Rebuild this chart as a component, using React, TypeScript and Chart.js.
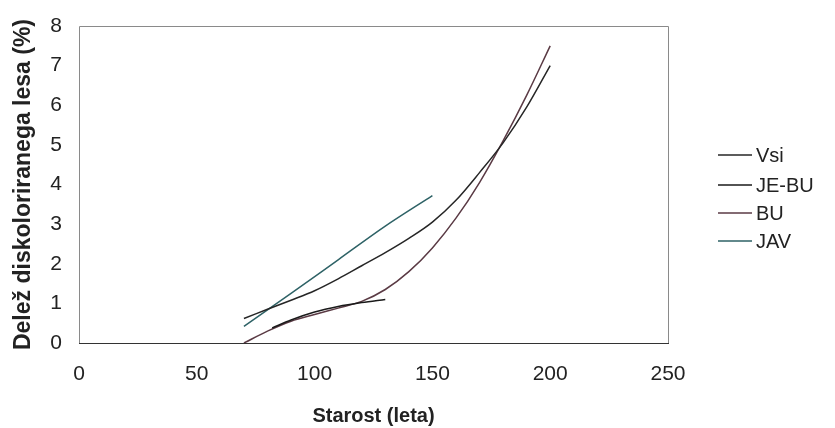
import React, { useEffect, useRef } from "react";
import { Chart, registerables } from "chart.js";

Chart.register(...registerables);

const xTicks = [0, 50, 100, 150, 200, 250];
const yTicks = [0, 1, 2, 3, 4, 5, 6, 7, 8];

const vsiX = [70, 80, 90, 100, 110, 120, 130, 140, 150, 160, 170, 180, 190, 200];
const vsiY = [0.62, 0.85, 1.08, 1.32, 1.62, 1.95, 2.28, 2.64, 3.05, 3.6, 4.3, 5.05, 5.95, 7.0];

const jebuX = [82, 90, 100, 110, 120, 130];
const jebuY = [0.38, 0.58, 0.78, 0.92, 1.02, 1.1];

const buX = [70, 80, 90, 100, 110, 120, 130, 140, 150, 160, 170, 180, 190, 200];
const buY = [0, 0.3, 0.55, 0.72, 0.88, 1.05, 1.35, 1.8, 2.4, 3.15, 4.05, 5.1, 6.25, 7.5];

const javX = [70, 90, 110, 130, 150];
const javY = [0.42, 1.25, 2.1, 2.95, 3.72];

const seriesNames = ["Vsi", "JE-BU", "BU", "JAV"];
const seriesColors = ["#262626", "#1a1a1a", "#5a3a44", "#2e6266"];

const FONT = "'Liberation Sans', Arial, sans-serif";

function pts(xs: number[], ys: number[]) {
  return xs.map((x, i) => ({ x, y: ys[i] }));
}

export default function App() {
  const ref = useRef<HTMLCanvasElement | null>(null);
  useEffect(() => {
    if (!ref.current) return;
    const frame = {
      id: "frame",
      afterDatasetsDraw(chart: any) {
        const { ctx, chartArea: a } = chart;
        ctx.save();
        ctx.lineWidth = 1;
        ctx.strokeStyle = "#8a8a8a";
        ctx.beginPath();
        ctx.moveTo(a.left + 0.5, a.bottom + 0.5);
        ctx.lineTo(a.left + 0.5, a.top + 0.5);
        ctx.lineTo(a.right + 0.5, a.top + 0.5);
        ctx.lineTo(a.right + 0.5, a.bottom + 0.5);
        ctx.stroke();
        ctx.strokeStyle = "#333";
        ctx.beginPath();
        ctx.moveTo(a.left, a.bottom + 0.5);
        ctx.lineTo(a.right + 1, a.bottom + 0.5);
        ctx.stroke();
        // legend
        const lx = 718;
        const ys = [155, 185, 213, 241];
        ctx.font = "20px " + FONT;
        ctx.textBaseline = "middle";
        ctx.textAlign = "left";
        seriesNames.forEach((n, i) => {
          ctx.strokeStyle = seriesColors[i];
          ctx.lineWidth = 1.6;
          ctx.beginPath();
          ctx.moveTo(lx, ys[i]);
          ctx.lineTo(lx + 34, ys[i]);
          ctx.stroke();
          ctx.fillStyle = "#222";
          ctx.fillText(n, lx + 38, ys[i] + 1);
        });
        ctx.restore();
      },
    };
    const mk = (i: number, xs: number[], ys: number[]) => ({
      label: seriesNames[i],
      data: pts(xs, ys),
      borderColor: seriesColors[i],
      backgroundColor: seriesColors[i],
      borderWidth: 1.5,
      pointRadius: 0,
      tension: 0.4,
      cubicInterpolationMode: "monotone" as const,
      fill: false,
    });
    const chart = new Chart(ref.current, {
      type: "scatter",
      data: {
        datasets: [
          mk(0, vsiX, vsiY),
          mk(1, jebuX, jebuY),
          mk(2, buX, buY),
          mk(3, javX, javY),
        ],
      },
      options: {
        animation: false,
        responsive: false,
        showLine: true,
        layout: { padding: { left: 0, top: 26, right: 167, bottom: 0 } },
        plugins: { legend: { display: false }, tooltip: { enabled: false } },
        scales: {
          x: {
            type: "linear",
            min: 0,
            max: 250,
            afterBuildTicks: (s: any) => {
              s.ticks = xTicks.map((v) => ({ value: v }));
            },
            afterFit: (s: any) => {
              s.height = 85;
              s.paddingLeft = 0;
              s.paddingRight = 0;
            },
            grid: { display: false, drawTicks: false },
            border: { display: false },
            ticks: {
              color: "#222",
              font: { family: FONT, size: 21 },
              padding: 19,
            },
            title: {
              display: true,
              text: "Starost (leta)",
              color: "#222",
              font: { family: FONT, size: 20, weight: "bold" },
              padding: { top: 6, bottom: 0 },
            },
          },
          y: {
            type: "linear",
            min: 0,
            max: 8,
            afterBuildTicks: (s: any) => {
              s.ticks = yTicks.map((v) => ({ value: v }));
            },
            afterFit: (s: any) => {
              s.width = 79;
              s.paddingTop = 0;
              s.paddingBottom = 0;
            },
            grid: { display: false, drawTicks: false },
            border: { display: false },
            ticks: {
              color: "#222",
              font: { family: FONT, size: 21 },
              padding: 17,
            },
            title: {
              display: true,
              text: "Delež diskoloriranega lesa (%)",
              color: "#222",
              font: { family: FONT, size: 23, weight: "bold" },
              padding: { top: 10, bottom: 0 },
            },
          },
        },
      },
      plugins: [frame],
    });
    return () => chart.destroy();
  }, []);
  return (
    <div style={{ position: "fixed", left: 0, top: 0, width: 835, height: 428, background: "#fff" }}>
      <canvas ref={ref} width={835} height={428} style={{ display: "block" }} />
    </div>
  );
}
